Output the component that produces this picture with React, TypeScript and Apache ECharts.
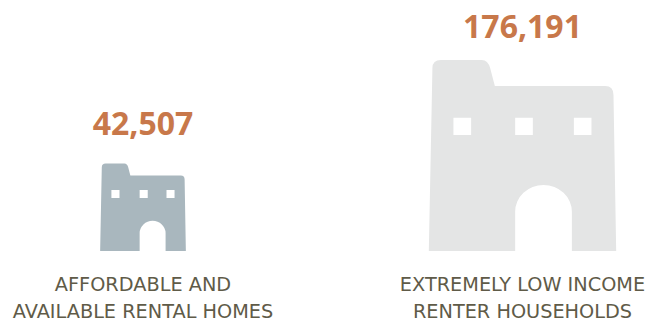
import React, { useEffect, useRef } from "react";
import * as echarts from "echarts";

const categories = [
  "AFFORDABLE AND\nAVAILABLE RENTAL HOMES",
  "EXTREMELY LOW INCOME\nRENTER HOUSEHOLDS",
];
const households = [42507, 176191];
const buildingColors = ["#A9B7BE", "#E4E5E5"];
const valueGaps = [41, 34];

// Adobe-style building silhouette; the door is a notch and the windows wind the other way.
const BUILDING =
  "M0 191 L3.6 8 Q3.8 0 12 0 L53 0 Q59 0 61.3 8 L66 26 L176.3 26 Q184.6 26 184.6 35 L187.3 191 " +
  "L143 191 L143 151.7 A28.35 26.7 0 0 0 86.3 151.7 L86.3 191 Z " +
  "M24.6 57.7 L24.6 75 L42.3 75 L42.3 57.7 Z " +
  "M86.3 57.7 L86.3 75 L104 75 L104 57.7 Z " +
  "M145 57.7 L145 75 L162.6 75 L162.6 57.7 Z";

// Icons grow with a power of the count.
const EXPONENT = 0.55;
const widthOf = (v: number) => 0.244 * Math.pow(v, EXPONENT);
const heightOf = (v: number) => 0.2488 * Math.pow(v, EXPONENT);

export default function App() {
  const ref = useRef<HTMLDivElement>(null);

  useEffect(() => {
    const chart = echarts.init(ref.current!, null, { renderer: "svg" });
    chart.setOption({
      animation: false,
      backgroundColor: "#ffffff",
      grid: { left: 143, right: 123.5, top: 0, bottom: 71, outerBoundsMode: "none" },
      xAxis: {
        type: "category",
        data: categories,
        boundaryGap: false,
        axisLine: { show: false },
        axisTick: { show: false },
        axisLabel: {
          interval: 0,
          hideOverlap: false,
          margin: 20,
          color: "#5F5B48",
          fontFamily: "DejaVu Sans",
          fontSize: 19.3,
          lineHeight: 27,
          align: "center",
        },
      },
      yAxis: { type: "value", min: 0, max: 200000, show: false },
      series: [
        {
          type: "custom",
          clip: false,
          data: households.map((v, i) => [i, v]),
          encode: { x: 0, y: 1 },
          renderItem: (_params: any, api: any) => {
            const index = api.value(0) as number;
            const value = api.value(1) as number;
            const [cx, baseY] = api.coord([index, 0]);
            const w = widthOf(value);
            const h = heightOf(value);
            return {
              type: "group",
              children: [
                {
                  type: "path",
                  shape: {
                    pathData: BUILDING,
                    layout: "cover",
                    x: cx - w / 2,
                    y: baseY - h,
                    width: w,
                    height: h,
                  },
                  style: { fill: buildingColors[index] },
                },
                {
                  type: "text",
                  x: cx,
                  y: baseY - h - valueGaps[index],
                  style: {
                    text: value.toLocaleString("en-US"),
                    fill: "#C8784A",
                    font: "bold 32px 'Open Sans'",
                    align: "center",
                    verticalAlign: "middle",
                  },
                },
              ],
            };
          },
        },
      ],
    });
    return () => chart.dispose();
  }, []);

  return (
    <div
      ref={ref}
      style={{ position: "absolute", left: 0, top: 0, width: 646, height: 322 }}
    />
  );
}
